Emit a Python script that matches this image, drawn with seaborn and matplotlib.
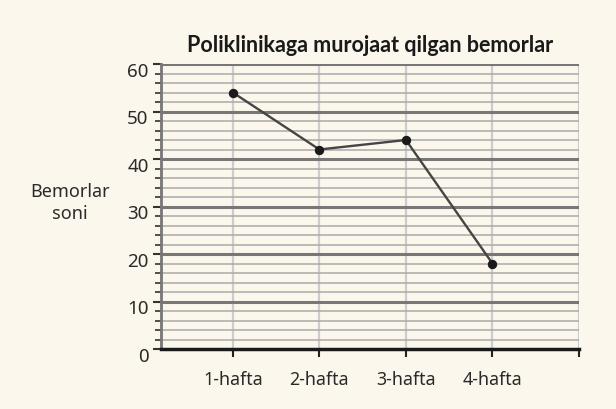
import matplotlib
matplotlib.use("Agg")
import matplotlib.pyplot as plt
import matplotlib.transforms as mtransforms
import seaborn as sns
import pandas as pd
import numpy as np

categories = ["1-hafta", "2-hafta", "3-hafta", "4-hafta"]
values = [54, 42, 44, 18]
title = "Poliklinikaga murojaat qilgan bemorlar"
ylabel = "Bemorlar\nsoni"

sns.set_style("white")
plt.rcParams['font.family'] = ['Noto Sans', 'DejaVu Sans']

bg = "#fbf7ec"
fig = plt.figure(figsize=(6.16, 4.10), dpi=100, facecolor=bg)
ax = fig.add_axes([161/616, 1-350/410, (579-161)/616, (350-65)/410])
ax.set_facecolor(bg)

df = pd.DataFrame({"pos": np.arange(len(categories)), "value": values})

ax.set_xlim(-0.83, 4)
ax.set_ylim(0, 60)

# grid lines
for y in range(2, 60, 2):
    if y % 10:
        ax.axhline(y, color="#a9a9a9", lw=1.1, zorder=1)
for y in range(10, 61, 10):
    ax.axhline(y, color="#777777", lw=2.2, zorder=1.2)
for x in range(0, 5):
    ax.axvline(x, color="#cccccc", lw=1.6, zorder=0.9)

sns.lineplot(data=df, x="pos", y="value", ax=ax, color="#454545", lw=1.7,
             marker="o", markersize=6, markerfacecolor="#1a1a1a",
             markeredgecolor="#1a1a1a", zorder=3)

ax.set_yticks(range(0, 61, 10))
ax.set_yticks(range(0, 61, 2), minor=True)
ax.set_xticks(range(0, 5))
ax.set_xticklabels(categories + [""])
ax.tick_params(axis="y", which="major", direction="out", length=6, width=1.5,
               color="#333333", labelsize=13.5, labelcolor="#2a2a2a", pad=3,
               left=True)
ax.tick_params(axis="y", which="minor", direction="out", length=4, width=1.2,
               color="#333333", left=True)
ax.tick_params(axis="x", which="major", direction="out", length=6, width=1.5,
               color="#222222", labelsize=12.8, labelcolor="#2a2a2a", pad=9,
               bottom=True)

offset = mtransforms.ScaledTranslation(0, -5/100, fig.dpi_scale_trans)
for lab in ax.get_yticklabels():
    lab.set_transform(lab.get_transform() + offset)

for s in ["top", "right"]:
    ax.spines[s].set_visible(False)
ax.spines["left"].set_color("#777777")
ax.spines["left"].set_linewidth(2)
ax.spines["bottom"].set_color("#1a1a1a")
ax.spines["bottom"].set_linewidth(2.5)

ax.set_xlabel("")
ax.set_ylabel("")
fig.text(70/616, 1-203/410, ylabel, ha="center", va="center", fontsize=13,
         color="#2a2a2a", linespacing=1.35)
fig.text(370/616, 1-46/410, title, ha="center", va="center", fontsize=15.5,
         fontweight="bold", color="#1a1a1a", family=["Lato", "DejaVu Sans"])

fig.savefig("out.png", dpi=100, facecolor=bg)
